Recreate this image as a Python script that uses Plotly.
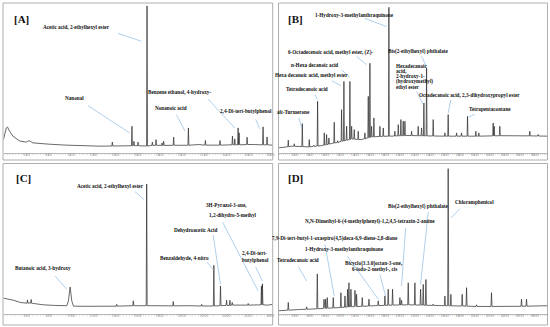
import plotly.graph_objects as go

# ---------------- data (retention time [min], signal top [% of scale], local baseline [%]) ----------------
A_RT = [3.92, 4.05, 4.17, 4.29, 4.47, 4.77, 5.37, 5.97, 6.21, 6.42, 6.57, 8.08, 9.58, 12.59, 13.73, 15.50,
        15.68, 16.05, 16.86, 17.34, 17.67, 18.21, 18.36, 19.26, 20.59, 21.50, 22.12, 23.44, 24.56, 24.77,
        25.07, 25.16, 25.88, 26.40, 27.32, 27.68, 28.17]
A_TOP = [9.3, 14.0, 17.1, 17.6, 14.9, 11.6, 8.4, 7.6, 8.6, 7.8, 7.1, 6.2, 5.6, 4.9, 7.6, 18.2,
         8.2, 7.6, 98.7, 7.6, 9.3, 7.1, 8.2, 10.9, 17.1, 6.0, 8.7, 8.7, 11.6, 9.8,
         17.1, 13.8, 10.9, 6.5, 17.8, 11.1, 5.6]
A_BASE = [9.3, 14.0, 17.1, 17.6, 14.9, 11.6, 8.4, 7.6, 8.6, 7.8, 7.1, 6.2, 5.6, 4.9, 5.0, 5.2,
          5.3, 5.2, 5.0, 5.4, 5.5, 5.4, 5.4, 5.5, 5.5, 6.0, 5.6, 5.6, 5.8, 5.8,
          5.8, 5.8, 6.0, 6.0, 5.8, 5.8, 5.6]

B_RT = [3.87, 5.11, 5.56, 5.91, 6.98, 7.91, 8.50, 9.02, 9.56, 9.91, 10.22, 10.53, 10.89, 11.24, 11.70,
        12.22, 12.53, 12.89, 13.33, 13.56, 13.91, 14.44, 14.89, 15.33, 15.78, 16.00, 16.22, 16.53, 17.33,
        17.78, 18.53, 19.33, 19.78, 20.13, 20.44, 20.67, 21.56, 22.44, 22.89, 23.20, 23.56, 24.44, 26.00,
        26.44, 27.56, 28.22, 29.02, 30.13, 30.53, 32.44, 32.58, 33.33, 34.44, 37.33, 38.44, 39.69]
B_TOP = [3.8, 8.9, 4.9, 6.5, 20.0, 9.3, 5.5, 34.9, 5.3, 13.8, 12.7, 10.4, 6.7, 20.9, 8.5,
         29.3, 48.2, 18.2, 48.2, 18.2, 16.0, 14.9, 9.3, 13.8, 38.2, 60.4, 18.2, 23.8, 18.2,
         17.1, 97.8, 14.9, 19.3, 22.7, 21.6, 21.6, 14.9, 18.2, 17.1, 33.8, 57.1, 22.7, 13.8,
         26.0, 13.8, 13.8, 24.9, 14.9, 13.8, 20.4, 18.2, 18.2, 12.0, 14.9, 12.7, 11.6]
B_BASE = [3.8, 4.5, 4.9, 4.8, 4.6, 4.4, 4.8, 5.0, 5.3, 5.6, 5.9, 6.3, 6.7, 7.0, 7.4,
          8.2, 8.5, 8.9, 9.4, 9.8, 9.6, 9.4, 9.3, 9.9, 10.5, 10.8, 11.1, 11.2, 11.4,
          11.5, 11.6, 11.7, 11.8, 11.9, 11.9, 12.0, 12.0, 11.9, 11.9, 11.8, 11.8, 11.7, 11.6,
          11.6, 11.6, 11.6, 11.6, 11.6, 11.6, 11.8, 11.8, 11.9, 12.0, 11.8, 11.7, 11.6]

C_RT = [3.89, 4.80, 5.40, 5.85, 6.06, 6.24, 6.39, 6.60, 7.50, 8.50, 9.61, 9.76, 9.91, 10.06, 10.21,
        11.50, 12.62, 14.12, 15.62, 16.83, 17.50, 19.23, 20.50, 21.80, 22.90, 23.50, 24.05, 24.35,
        24.56, 25.20, 26.00, 27.20, 27.29, 27.80, 28.20]
C_TOP = [10.7, 9.3, 7.8, 7.1, 9.5, 7.5, 9.8, 7.1, 6.2, 5.8, 5.6, 8.9, 18.2, 8.9, 5.3,
         5.2, 5.1, 6.5, 8.9, 87.8, 5.6, 8.4, 5.6, 6.5, 32.9, 18.9, 9.3, 9.3,
         7.8, 6.0, 7.1, 18.9, 20.4, 6.0, 6.5]
C_BASE = [10.7, 9.3, 7.8, 7.1, 7.3, 7.5, 7.3, 7.1, 6.2, 5.8, 5.6, 8.9, 18.2, 8.9, 5.3,
          5.2, 5.1, 5.3, 5.6, 5.6, 5.6, 5.5, 5.6, 5.4, 5.4, 5.6, 5.8, 5.8,
          6.0, 6.0, 6.0, 6.2, 6.2, 6.0, 6.5]

D_RT = [3.87, 5.11, 6.50, 7.56, 8.98, 9.87, 10.09, 10.31, 11.11, 12.13, 12.67, 13.02, 13.20, 13.47,
        14.00, 14.22, 14.98, 15.87, 17.11, 18.00, 18.44, 19.02, 20.00, 20.22, 21.11, 22.00, 22.76,
        23.11, 23.47, 24.44, 26.00, 26.44, 26.80, 28.31, 28.89, 30.22, 32.22, 34.44, 36.22, 36.89, 39.69]
D_TOP = [2.2, 7.8, 3.0, 4.8, 27.1, 10.0, 10.0, 11.1, 11.1, 14.4, 12.2, 16.7, 21.1, 16.7,
         16.0, 13.3, 11.1, 10.0, 8.9, 12.2, 16.7, 16.7, 11.1, 9.3, 21.1, 21.1, 16.7,
         20.0, 23.3, 6.7, 12.2, 98.2, 13.3, 13.3, 17.8, 6.2, 14.4, 5.1, 10.0, 10.0, 5.6]
D_BASE = [2.2, 2.6, 3.0, 3.2, 3.5, 3.8, 3.8, 3.9, 4.1, 4.4, 4.6, 4.7, 4.8, 4.9,
          5.0, 5.0, 5.2, 5.4, 5.7, 5.8, 5.9, 6.0, 6.1, 6.1, 6.2, 6.1, 6.0,
          6.0, 5.9, 5.8, 5.6, 5.6, 5.5, 5.4, 5.3, 5.1, 5.1, 5.1, 5.2, 5.3, 5.6]

AC_TICKS = [6, 8, 10, 12, 14, 16, 18, 20, 22, 24, 26, 28]
BD_TICKS = [6, 8, 10, 12, 14, 16, 18, 20, 22, 24, 26, 28, 30, 32, 34, 36, 38]

PANEL_TAGS = ["[A]", "[B]", "[C]", "[D]"]
A_LABELS = ["Acetic acid, 2-ethylhexyl ester", "Nanonal", "Benzene ethanol, 4-hydroxy-",
            "Nonanoic acid", "2,4-Di-tert-butylphenol"]
B_LABELS = ["1-Hydroxy-3-methylanthraquinone", "6-Octadecenoic acid, methyl ester, (Z)-",
            "n-Hexa decanoic acid", "Hexa decanoic acid, methyl ester", "Tetradecanoic acid",
            "alt-Turmerone", "Bis(2-ethylhexyl) phthalate",
            "Hexadecanoic<br>acid,<br>2-hydroxy-1-<br>(hydroxymethyl)<br>ethyl ester",
            "Octadecanoic acid, 2,3-dihydroxypropyl ester", "Tetrapentacontane"]
C_LABELS = ["Acetic acid, 2-ethylhexyl ester", "Butanoic acid, 3-hydroxy", "Benzaldehyde, 4-nitro",
            "Dehydroacetic Acid", "3H-Pyrazol-3-one,<br>1,2-dihydro-5-methyl", "2,4-Di-tert-<br>butylphenol"]
D_LABELS = ["Chloramphenicol", "Bis(2-ethylhexyl) phthalate",
            "N,N-Dimethyl-6-(4-methylphenyl)-1,2,4,5-tetrazin-2-amine",
            "7,9-Di-tert-butyl-1-oxaspiro(4,5)deca-6,9-diene-2,8-dione",
            "1-Hydroxy-3-methylanthraquinone", "Bicyclo[3.3.0]octan-3-one,<br>6-iodo-2-methyl-, cis",
            "Tetradecanoic acid"]


def trace_points(rt, top, base, w):
    xs, ys = [], []
    for t, h, b in zip(rt, top, base):
        if h - b > 0.3:
            xs += [t - w, t, t + w]
            ys += [b, h, b]
        else:
            xs.append(t)
            ys.append(h)
    return xs, ys


fig = go.Figure()
series = [(A_RT, A_TOP, A_BASE, 0.045, "x", "y"),
          (B_RT, B_TOP, B_BASE, 0.06, "x2", "y2"),
          (C_RT, C_TOP, C_BASE, 0.045, "x3", "y3"),
          (D_RT, D_TOP, D_BASE, 0.07, "x4", "y4")]
for rt, top, base, w, xa, ya in series:
    xs, ys = trace_points(rt, top, base, w)
    fig.add_trace(go.Scatter(x=xs, y=ys, mode="lines", xaxis=xa, yaxis=ya,
                             line=dict(color="#2a2a2a", width=0.7), hoverinfo="skip",
                             showlegend=False))

W, H = 550, 327
def px(v): return v / W
def py(v): return 1 - v / H

xdom = {"A": [px(3.5), px(272.5)], "B": [px(279), px(547.5)],
        "C": [px(3.5), px(272.5)], "D": [px(279), px(547.5)]}
ydom = {"A": [py(153.5), py(4)], "B": [py(153.5), py(4)],
        "C": [py(314), py(166)], "D": [py(314), py(166)]}
xrng = {"A": [3.92, 28.17], "B": [3.87, 39.69], "C": [3.89, 28.2], "D": [3.87, 39.69]}

def xaxis(p, anchor, ticks):
    return dict(domain=xdom[p], range=xrng[p], anchor=anchor, showline=True, linecolor="#8a8a8a",
                linewidth=0.6, ticks="outside", ticklen=1.5, tickwidth=0.5, tickcolor="#8a8a8a",
                tickvals=ticks, ticktext=["%.2f" % t for t in ticks], ticklabelstandoff=-3,
                tickfont=dict(size=3.2, color="#888"), showgrid=False, zeroline=False,
                minor=dict(ticks="outside", ticklen=1.0, tickwidth=0.4, tickcolor="#aaa", dtick=0.25),
                fixedrange=True)

def yaxis(p, anchor):
    return dict(domain=ydom[p], range=[0, 100], anchor=anchor, visible=False, fixedrange=True)

fig.update_layout(
    width=W, height=H, margin=dict(l=0, r=0, t=0, b=0, autoexpand=False),
    paper_bgcolor="white", plot_bgcolor="white",
    xaxis=xaxis("A", "y", AC_TICKS), yaxis=yaxis("A", "x"),
    xaxis2=xaxis("B", "y2", BD_TICKS), yaxis2=yaxis("B", "x2"),
    xaxis3=xaxis("C", "y3", AC_TICKS), yaxis3=yaxis("C", "x3"),
    xaxis4=xaxis("D", "y4", BD_TICKS), yaxis4=yaxis("D", "x4"),
)

shapes = []
# panel frames
for x0, x1, y0, y1 in [(3, 272.7, 160, 3), (278.5, 547.5, 160, 3),
                       (3, 272.7, 325, 163.5), (278.5, 547.5, 325, 163.5)]:
    shapes.append(dict(type="rect", xref="paper", yref="paper", x0=px(x0), x1=px(x1),
                       y0=py(y0), y1=py(y1), line=dict(color="#9a9a9a", width=0.8)))

annots = []
LBL_FONT = dict(family="Liberation Serif, Times New Roman, serif", size=5.2, color="#111", weight="bold")
TAG_FONT = dict(family="Liberation Serif, Times New Roman, serif", size=11, color="#111", weight="bold")
LEAD = dict(color="#9cc3e6", width=0.8)

# per label: list of (x, y) centres, one per text line; leader line start; leader line end
layout_pos = {
    ("x", "y"): (A_LABELS, [([(10.48, 84.9)], (14.24, 80.4), (16.35, 75.1)),
                            ([(10.30, 37.3)], (11.53, 32.0), (15.29, 13.8)),
                            ([(19.83, 40.9)], (22.36, 36.4), (24.77, 17.1)),
                            ([(18.99, 30.2)], (19.50, 26.0), (20.29, 14.9)),
                            ([(25.76, 28.2)], (26.66, 22.7), (27.02, 16.4))]),
    ("x2", "y2"): (B_LABELS, [([(13.91, 92.7)], (15.33, 90.4), (18.22, 84.9)),
                              ([(10.80, 67.8)], (14.22, 64.9), (15.56, 59.3)),
                              ([(8.67, 59.3)], (12.22, 56.0), (13.33, 50.9)),
                              ([(8.22, 52.2)], (10.89, 48.7), (12.13, 45.3)),
                              ([(7.56, 43.1)], (8.67, 39.3), (9.02, 36.0)),
                              ([(5.78, 27.6)], (6.53, 23.8), (6.89, 17.1)),
                              ([(22.44, 68.2)], (22.89, 64.9), (23.56, 58.2)),
                              ([("L", 19.24, 58.2), ("L", 19.24, 54.9), ("L", 19.24, 51.6),
                                ("L", 19.24, 48.2), ("L", 19.24, 44.6)], (22.22, 41.6), (23.11, 32.7)),
                              ([(29.24, 38.9)], (26.80, 36.0), (26.44, 27.1)),
                              ([(32.00, 30.0)], (30.00, 26.4), (29.20, 24.4))]),
    ("x3", "y3"): (C_LABELS, [([(13.52, 86.2)], (15.77, 82.7), (16.59, 77.3)),
                              ([(7.50, 31.1)], (8.56, 25.6), (9.61, 16.7)),
                              ([(20.23, 37.8)], (22.30, 34.9), (22.84, 30.0)),
                              ([(21.28, 56.7)], (22.84, 53.3), (23.50, 20.0)),
                              ([(24.05, 73.8), (24.59, 67.1)], (23.68, 62.2), (26.90, 15.6)),
                              ([(26.60, 41.1), (26.69, 36.4)], (26.69, 31.6), (27.29, 22.2))]),
    ("x4", "y4"): (D_LABELS, [([(30.00, 75.6)], (28.00, 71.1), (26.80, 64.9)),
                              ([(22.36, 72.9)], (23.78, 68.9), (22.76, 20.0)),
                              ([(16.00, 62.2)], (20.76, 58.2), (20.22, 18.9)),
                              ([(11.33, 51.1)], (10.00, 47.1), (11.24, 12.2)),
                              ([(12.67, 43.8)], (13.02, 38.9), (17.11, 10.0)),
                              ([(16.58, 34.4), (16.67, 30.7)], (17.33, 26.7), (18.09, 12.2)),
                              ([(6.44, 36.7)], (6.44, 32.2), (7.56, 22.2))]),
}

for (xa, ya), (labels, pos) in layout_pos.items():
    for text, (lines_pos, l0, l1) in zip(labels, pos):
        for line_text, p in zip(text.split("<br>"), lines_pos):
            if p[0] == "L":
                annots.append(dict(x=p[1], y=p[2], xref=xa, yref=ya, text=line_text, showarrow=False,
                                   xanchor="left", yanchor="middle", font=LBL_FONT))
            else:
                annots.append(dict(x=p[0], y=p[1], xref=xa, yref=ya, text=line_text, showarrow=False,
                                   xanchor="center", yanchor="middle", font=LBL_FONT))
        shapes.append(dict(type="line", xref=xa, yref=ya, x0=l0[0], y0=l0[1], x1=l1[0], y1=l1[1],
                           line=LEAD))

for tag, (xa, ya), (tx, ty) in zip(PANEL_TAGS, [("x", "y"), ("x2", "y2"), ("x3", "y3"), ("x4", "y4")],
                                   [(5.55, 90.0), (6.13, 90.0), (5.70, 91.6), (6.13, 91.8)]):
    annots.append(dict(x=tx, y=ty, xref=xa, yref=ya, text=tag, showarrow=False, font=TAG_FONT))

fig.update_layout(shapes=shapes, annotations=annots, hovermode=False)
fig.write_html("out.html", config={"displayModeBar": False, "staticPlot": True},
               post_script="document.body.style.margin='0';")
